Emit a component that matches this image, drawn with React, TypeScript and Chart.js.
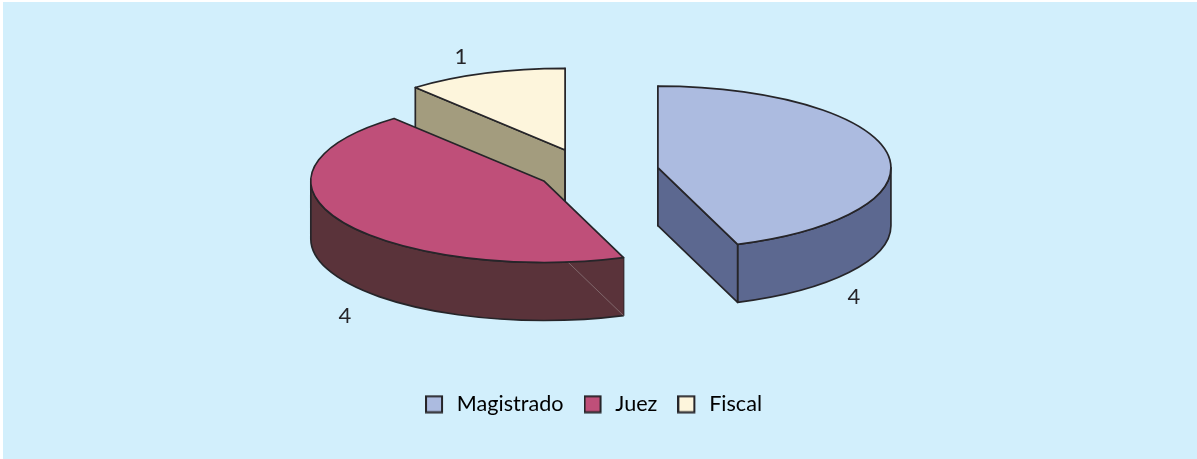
import React, { useEffect, useRef } from "react";
import { Chart, registerables } from "chart.js";

Chart.register(...registerables);

const categories = ["Magistrado", "Juez", "Fiscal"];
const values = [4, 4, 1];
const topColors = ["#ACBBE0", "#BF4F79", "#FDF5DC"];
const sideColors = ["#5C6890", "#5A333A", "#A39C7E"];
const explode = [71, 51, 67];
const labelPositions = [
  [854, 297],
  [345, 316],
  [461, 57],
];

const INK = "#262529";
const FONT = "Lato";
const PIE_X = 588;
const PIE_Y = 172;
const TILT = 0.35;
const DEPTH = 58;
const RADIUS = 233;
const EDGE = 1.7;

function legendSwatch(color: string) {
  const c = document.createElement("canvas");
  c.width = 21;
  c.height = 19;
  const x = c.getContext("2d") as CanvasRenderingContext2D;
  x.fillStyle = color;
  x.strokeStyle = INK;
  x.lineWidth = 2;
  x.fillRect(1, 1.5, 16, 16);
  x.strokeRect(1, 1.5, 16, 16);
  return c;
}

function sliceGeom(chart: any, el: any) {
  const a = chart.chartArea;
  const baseX = (a.left + a.right) / 2;
  const baseY = (a.top + a.bottom) / 2;
  return {
    s: el.startAngle,
    e: el.endAngle,
    r: el.outerRadius,
    cx: PIE_X + (el.x - baseX),
    cy: PIE_Y + TILT * (el.y - baseY),
  };
}

const pie3d = {
  id: "pie3d",
  beforeDraw(chart: any) {
    const { ctx, width, height } = chart;
    ctx.save();
    ctx.fillStyle = "#D2EFFC";
    ctx.fillRect(3, 2, width - 3, height - 2);
    ctx.restore();
  },
  afterDatasetsUpdate(chart: any) {
    // pull each slice out of the pie along its middle angle
    chart.getDatasetMeta(0).data.forEach((el: any, i: number) => {
      const mid = (el.startAngle + el.endAngle) / 2;
      el.x += explode[i] * Math.cos(mid);
      el.y += explode[i] * Math.sin(mid);
    });
  },
  beforeDatasetsDraw(chart: any) {
    const { ctx } = chart;
    const arcs = chart.getDatasetMeta(0).data;
    ctx.save();
    ctx.strokeStyle = INK;
    ctx.lineWidth = EDGE;
    ctx.lineJoin = "round";
    // back to front: the last slice sits behind the others
    for (let i = arcs.length - 1; i >= 0; i--) {
      const g = sliceGeom(chart, arcs[i]);
      ctx.fillStyle = sideColors[i];
      const rx = g.r;
      const ry = g.r * TILT;
      const a = Math.max(g.s, 0);
      const b = Math.min(g.e, Math.PI);
      if (b > a) {
        ctx.beginPath();
        ctx.ellipse(g.cx, g.cy, rx, ry, 0, a, b);
        ctx.ellipse(g.cx, g.cy + DEPTH, rx, ry, 0, b, a, true);
        ctx.closePath();
        ctx.fill();
        ctx.stroke();
      }
      for (const [t, normal] of [
        [g.s, g.s - Math.PI / 2],
        [g.e, g.e + Math.PI / 2],
      ]) {
        const px = g.cx + rx * Math.cos(t);
        const py = g.cy + ry * Math.sin(t);
        ctx.beginPath();
        ctx.moveTo(g.cx, g.cy);
        ctx.lineTo(px, py);
        ctx.lineTo(px, py + DEPTH);
        ctx.lineTo(g.cx, g.cy + DEPTH);
        ctx.closePath();
        ctx.fill();
        if (Math.sin(normal) > -1e-6) {
          ctx.stroke();
        } else {
          ctx.save();
          ctx.lineWidth = 0.7;
          ctx.strokeStyle = "#8F7C80";
          ctx.beginPath();
          ctx.moveTo(g.cx, g.cy + DEPTH);
          ctx.lineTo(px, py + DEPTH);
          ctx.stroke();
          ctx.restore();
        }
      }
    }
    ctx.restore();
    // the library draws the top faces in the tilted plane
    const area = chart.chartArea;
    ctx.save();
    ctx.translate(PIE_X, PIE_Y);
    ctx.scale(1, TILT);
    ctx.translate(-(area.left + area.right) / 2, -(area.top + area.bottom) / 2);
  },
  afterDatasetsDraw(chart: any) {
    const { ctx } = chart;
    ctx.restore();
    const arcs = chart.getDatasetMeta(0).data;
    ctx.save();
    ctx.strokeStyle = INK;
    ctx.lineWidth = EDGE;
    ctx.lineJoin = "round";
    arcs.forEach((el: any) => {
      const g = sliceGeom(chart, el);
      ctx.beginPath();
      ctx.moveTo(g.cx, g.cy);
      ctx.ellipse(g.cx, g.cy, g.r, g.r * TILT, 0, g.s, g.e);
      ctx.closePath();
      ctx.stroke();
    });
    ctx.fillStyle = INK;
    ctx.font = `22px ${FONT}`;
    ctx.textAlign = "center";
    ctx.textBaseline = "middle";
    values.forEach((v, i) => {
      ctx.fillText(String(v), labelPositions[i][0], labelPositions[i][1]);
    });
    ctx.restore();
  },
};

export default function App() {
  const ref = useRef<HTMLCanvasElement>(null);
  useEffect(() => {
    const swatches = topColors.map(legendSwatch);
    const chart = new Chart(ref.current as HTMLCanvasElement, {
      type: "pie",
      data: {
        labels: categories,
        datasets: [
          {
            data: values,
            backgroundColor: topColors,
            borderWidth: 0,
            radius: RADIUS,
            clip: false,
          } as any,
        ],
      },
      options: {
        responsive: false,
        animation: false,
        devicePixelRatio: 1,
        layout: { padding: { left: 0, right: 10, top: 0, bottom: 34 } },
        plugins: {
          tooltip: { enabled: false },
          legend: {
            position: "bottom",
            labels: {
              usePointStyle: true,
              pointStyleWidth: 21,
              boxHeight: 19,
              padding: 20,
              color: INK,
              font: { family: FONT, size: 21.6 },
              generateLabels: () =>
                categories.map((text, i) => ({
                  text,
                  index: i,
                  fillStyle: topColors[i],
                  strokeStyle: INK,
                  lineWidth: 1.5,
                  hidden: false,
                  pointStyle: swatches[i],
                })),
            },
          },
        },
      },
      plugins: [pie3d],
    } as any);
    return () => chart.destroy();
  }, []);
  return (
    <div style={{ position: "absolute", left: 0, top: 0, width: 1197, height: 459, background: "#fff" }}>
      <canvas ref={ref} width={1197} height={459} style={{ display: "block" }} />
    </div>
  );
}
